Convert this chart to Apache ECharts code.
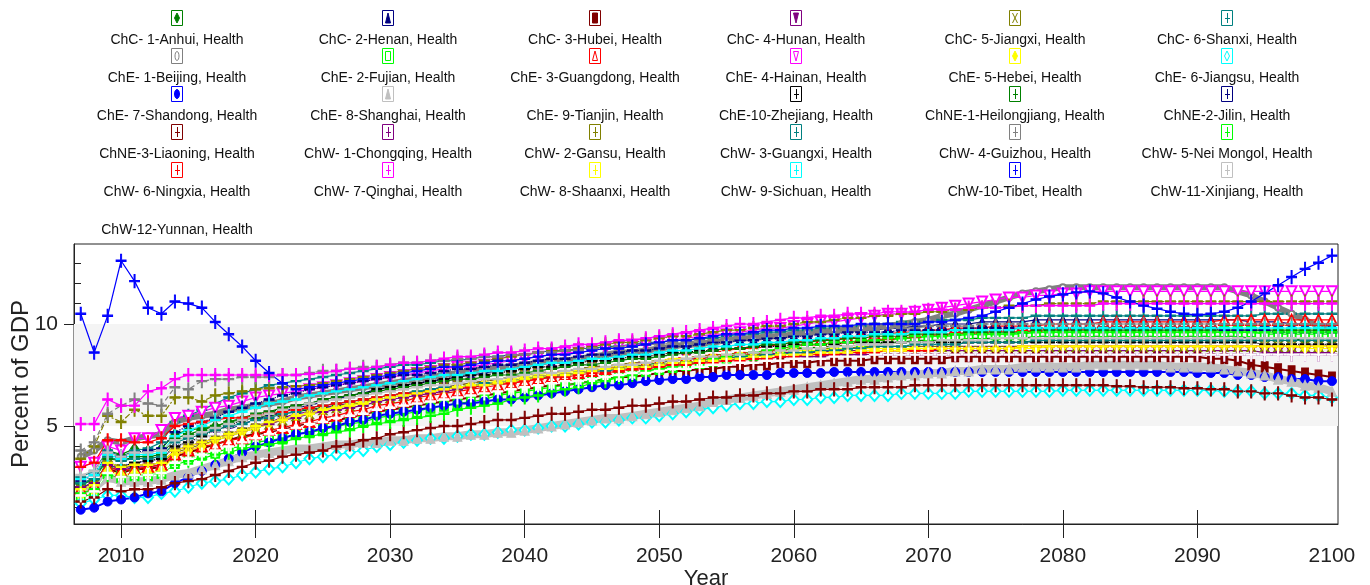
<!DOCTYPE html>
<html>
<head>
<meta charset="utf-8">
<script src="https://cdn.jsdelivr.net/npm/echarts@6/dist/echarts.min.js"></script>
<style>
  html, body { margin: 0; padding: 0; background: #fff; }
  #chart { width: 1370px; height: 585px; }
</style>
</head>
<body>
<div id="chart"></div>
<script>
// Health spending as percent of GDP, Chinese provinces, 2007-2100
const firstYear = 2007;
const lastYear = 2100;

const seriesNames = [
  'ChC- 1-Anhui, Health', 'ChC- 2-Henan, Health', 'ChC- 3-Hubei, Health', 'ChC- 4-Hunan, Health', 'ChC- 5-Jiangxi, Health', 'ChC- 6-Shanxi, Health',
  'ChE- 1-Beijing, Health', 'ChE- 2-Fujian, Health', 'ChE- 3-Guangdong, Health', 'ChE- 4-Hainan, Health', 'ChE- 5-Hebei, Health', 'ChE- 6-Jiangsu, Health',
  'ChE- 7-Shandong, Health', 'ChE- 8-Shanghai, Health', 'ChE- 9-Tianjin, Health', 'ChE-10-Zhejiang, Health', 'ChNE-1-Heilongjiang, Health', 'ChNE-2-Jilin, Health',
  'ChNE-3-Liaoning, Health', 'ChW- 1-Chongqing, Health', 'ChW- 2-Gansu, Health', 'ChW- 3-Guangxi, Health', 'ChW- 4-Guizhou, Health', 'ChW- 5-Nei Mongol, Health',
  'ChW- 6-Ningxia, Health', 'ChW- 7-Qinghai, Health', 'ChW- 8-Shaanxi, Health', 'ChW- 9-Sichuan, Health', 'ChW-10-Tibet, Health', 'ChW-11-Xinjiang, Health',
  'ChW-12-Yunnan, Health'
];

const xTickLabels = [2010, 2020, 2030, 2040, 2050, 2060, 2070, 2080, 2090, 2100];
const yTickLabels = [5, 10];

// yearly values, 2007..2100
const anhui = [
  2.1,2.4,3.8,3.6,3.9,3.8,3.9,4.6,4.8,4.9,
  5.0,5.2,5.3,5.4,5.5,5.6,5.7,5.8,5.9,6.0,
  6.1,6.2,6.3,6.4,6.5,6.6,6.7,6.8,6.9,7.0,
  7.0,7.1,7.2,7.3,7.4,7.5,7.5,7.6,7.7,7.8,
  7.9,7.9,8.0,8.1,8.2,8.3,8.3,8.4,8.5,8.6,
  8.6,8.7,8.7,8.8,8.8,8.9,8.9,9.0,9.0,9.0,
  9.1,9.1,9.2,9.2,9.2,9.2,9.3,9.3,9.3,9.3,
  9.3,9.4,9.4,9.4,9.4,9.4,9.4,9.4,9.4,9.4,
  9.4,9.4,9.4,9.4,9.4,9.4,9.4,9.3,9.3,9.3,
  9.3,9.2,9.2,9.2];
const henan = [
  2.0,2.2,3.2,3.0,3.2,3.3,3.4,4.0,4.2,4.4,
  4.6,4.8,5.1,5.3,5.5,5.7,5.9,6.0,6.2,6.3,
  6.5,6.6,6.8,6.9,7.0,7.1,7.2,7.3,7.4,7.5,
  7.6,7.7,7.8,7.9,8.0,8.1,8.1,8.2,8.3,8.4,
  8.5,8.5,8.6,8.7,8.8,8.9,8.9,9.0,9.1,9.2,
  9.2,9.3,9.3,9.4,9.5,9.5,9.6,9.6,9.7,9.7,
  9.8,9.8,9.9,9.9,10.0,10.0,10.0,10.1,10.1,10.1,
  10.1,10.2,10.2,10.2,10.2,10.2,10.2,10.2,10.2,10.2,
  10.2,10.2,10.2,10.2,10.2,10.2,10.2,10.1,10.1,10.1,
  10.0,10.0,10.0,10.0];
const hubei = [
  1.7,1.9,2.9,2.7,2.9,2.9,3.0,3.5,3.7,3.9,
  4.1,4.3,4.5,4.6,4.7,4.8,5.0,5.1,5.2,5.3,
  5.4,5.6,5.7,5.8,5.9,6.0,6.1,6.2,6.3,6.4,
  6.5,6.6,6.7,6.8,6.9,7.0,7.0,7.1,7.2,7.3,
  7.4,7.4,7.5,7.6,7.7,7.7,7.8,7.8,7.9,7.9,
  8.0,8.0,8.1,8.1,8.1,8.2,8.2,8.2,8.2,8.3,
  8.3,8.3,8.3,8.3,8.3,8.4,8.4,8.4,8.4,8.4,
  8.4,8.4,8.4,8.4,8.4,8.4,8.4,8.4,8.4,8.4,
  8.4,8.4,8.4,8.4,8.3,8.3,8.2,8.0,7.9,7.8,
  7.7,7.6,7.5,7.4];
const hunan = [
  1.8,2.0,3.0,2.8,3.0,3.0,3.1,3.8,4.0,4.2,
  4.4,4.6,4.8,5.0,5.2,5.4,5.6,5.7,5.9,6.0,
  6.1,6.2,6.4,6.5,6.6,6.7,6.8,6.9,7.0,7.1,
  7.2,7.3,7.4,7.5,7.6,7.7,7.7,7.8,7.9,7.9,
  8.0,8.1,8.1,8.2,8.2,8.3,8.3,8.4,8.4,8.5,
  8.5,8.5,8.6,8.6,8.6,8.6,8.7,8.7,8.7,8.7,
  8.7,8.7,8.7,8.7,8.7,8.7,8.7,8.7,8.7,8.7,
  8.7,8.7,8.7,8.7,8.7,8.7,8.7,8.7,8.7,8.7,
  8.7,8.7,8.7,8.7,8.7,8.7,8.7,8.7,8.6,8.6,
  8.6,8.6,8.6,8.6];
const jiangxi = [
  1.9,2.1,3.1,2.9,3.1,3.1,3.2,3.7,3.9,4.1,
  4.3,4.5,4.7,4.9,5.1,5.3,5.5,5.6,5.8,5.9,
  6.0,6.2,6.3,6.4,6.5,6.6,6.8,6.9,7.0,7.1,
  7.2,7.3,7.4,7.5,7.6,7.6,7.7,7.8,7.9,8.0,
  8.0,8.1,8.2,8.2,8.3,8.4,8.4,8.5,8.5,8.6,
  8.6,8.7,8.7,8.7,8.8,8.8,8.8,8.8,8.9,8.9,
  8.9,8.9,8.9,8.9,8.9,8.9,8.9,8.9,8.9,8.9,
  8.9,8.9,8.9,8.9,8.9,8.9,8.9,8.9,8.9,8.9,
  8.9,8.9,8.9,8.9,8.9,8.9,8.9,8.9,8.9,8.9,
  8.9,8.9,8.9,8.9];
const shanxi = [
  2.5,2.8,3.8,3.5,3.8,3.9,4.2,5.2,5.5,5.8,
  6.1,6.4,6.6,6.8,7.0,7.1,7.2,7.3,7.4,7.5,
  7.6,7.7,7.8,7.9,8.0,8.0,8.1,8.2,8.2,8.3,
  8.4,8.4,8.5,8.5,8.6,8.7,8.7,8.8,8.8,8.9,
  8.9,9.0,9.1,9.1,9.2,9.2,9.3,9.3,9.4,9.5,
  9.5,9.6,9.6,9.7,9.7,9.8,9.8,9.9,9.9,10.0,
  10.0,10.1,10.1,10.1,10.2,10.2,10.2,10.3,10.3,10.3,
  10.3,10.4,10.4,10.4,10.4,10.4,10.4,10.4,10.4,10.4,
  10.4,10.4,10.4,10.4,10.4,10.4,10.4,10.4,10.5,10.5,
  10.5,10.5,10.5,10.5];
const beijing = [
  3.5,3.8,4.3,4.2,4.4,4.5,4.6,5.2,5.4,5.5,
  5.6,5.8,5.9,6.0,6.1,6.2,6.4,6.5,6.6,6.7,
  6.8,6.9,7.0,7.1,7.2,7.3,7.4,7.5,7.6,7.7,
  7.8,7.8,7.9,8.0,8.1,8.2,8.2,8.3,8.4,8.5,
  8.6,8.6,8.7,8.8,8.9,9.0,9.0,9.1,9.2,9.3,
  9.3,9.4,9.4,9.5,9.6,9.6,9.7,9.7,9.8,9.9,
  9.9,10.0,10.1,10.2,10.4,10.5,10.7,10.9,11.1,11.3,
  11.5,11.6,11.7,11.8,11.8,11.8,11.8,11.8,11.8,11.8,
  11.8,11.8,11.8,11.8,11.8,11.8,11.6,11.4,11.1,10.8,
  10.5,10.2,9.9,9.7];
const fujian = [
  1.5,1.7,2.7,2.5,2.6,2.6,2.7,3.2,3.4,3.6,
  3.7,3.9,4.0,4.2,4.3,4.4,4.6,4.7,4.8,5.0,
  5.1,5.2,5.4,5.5,5.6,5.7,5.9,6.0,6.1,6.2,
  6.3,6.5,6.6,6.7,6.8,6.9,7.0,7.1,7.2,7.3,
  7.4,7.5,7.7,7.8,7.9,8.0,8.1,8.2,8.3,8.4,
  8.5,8.6,8.7,8.8,8.9,8.9,9.0,9.0,9.1,9.2,
  9.2,9.3,9.3,9.4,9.4,9.4,9.5,9.5,9.5,9.5,
  9.5,9.6,9.6,9.6,9.6,9.6,9.6,9.6,9.6,9.6,
  9.6,9.6,9.6,9.6,9.6,9.6,9.6,9.6,9.5,9.5,
  9.5,9.5,9.5,9.5];
const guangdong = [
  1.9,2.1,3.0,2.8,2.9,3.0,3.1,3.6,3.8,4.0,
  4.1,4.3,4.4,4.6,4.8,4.9,5.1,5.2,5.4,5.5,
  5.7,5.8,6.0,6.1,6.2,6.4,6.5,6.6,6.7,6.8,
  6.9,7.0,7.1,7.2,7.3,7.4,7.5,7.6,7.7,7.8,
  7.9,8.0,8.1,8.2,8.3,8.4,8.5,8.6,8.7,8.8,
  8.8,8.9,9.0,9.1,9.2,9.2,9.3,9.3,9.4,9.5,
  9.5,9.6,9.6,9.7,9.7,9.8,9.8,9.8,9.9,9.9,
  9.9,9.9,10.0,10.0,10.0,10.0,10.1,10.1,10.1,10.1,
  10.1,10.1,10.1,10.1,10.1,10.2,10.2,10.2,10.2,10.2,
  10.2,10.2,10.2,10.2];
const hainan = [
  3.0,3.2,4.0,3.8,4.4,4.4,4.8,5.4,5.5,5.7,
  5.9,6.0,6.2,6.4,6.5,6.6,6.7,6.8,6.9,7.0,
  7.1,7.2,7.3,7.4,7.5,7.6,7.7,7.8,7.9,7.9,
  8.0,8.1,8.2,8.3,8.4,8.5,8.6,8.6,8.7,8.8,
  8.9,9.0,9.0,9.1,9.2,9.3,9.4,9.5,9.5,9.6,
  9.7,9.8,9.8,9.9,10.0,10.1,10.1,10.2,10.3,10.4,
  10.5,10.5,10.6,10.7,10.8,10.9,11.0,11.1,11.2,11.3,
  11.3,11.4,11.4,11.5,11.5,11.6,11.6,11.6,11.6,11.6,
  11.6,11.6,11.6,11.6,11.6,11.6,11.6,11.6,11.6,11.6,
  11.6,11.6,11.6,11.6];
const hebei = [
  1.6,1.8,2.8,2.6,2.7,2.7,2.8,3.6,3.8,4.0,
  4.3,4.5,4.7,4.9,5.1,5.3,5.5,5.6,5.8,5.9,
  6.1,6.2,6.4,6.5,6.6,6.7,6.8,6.8,6.9,7.0,
  7.1,7.2,7.3,7.4,7.5,7.6,7.6,7.7,7.8,7.9,
  7.9,8.0,8.1,8.2,8.3,8.3,8.4,8.4,8.5,8.5,
  8.6,8.6,8.7,8.7,8.7,8.7,8.8,8.8,8.8,8.8,
  8.8,8.8,8.8,8.8,8.8,8.8,8.8,8.8,8.8,8.8,
  8.8,8.8,8.9,8.9,8.9,8.9,8.9,8.9,8.9,8.9,
  8.9,8.9,8.9,8.9,8.9,8.9,8.9,8.9,8.9,8.9,
  8.9,8.8,8.8,8.8];
const jiangsu = [
  1.2,1.4,1.6,1.6,1.5,1.5,1.7,1.8,2.0,2.2,
  2.3,2.4,2.6,2.75,2.9,3.0,3.2,3.4,3.5,3.6,
  3.7,3.8,4.0,4.1,4.2,4.3,4.4,4.4,4.5,4.6,
  4.6,4.7,4.8,4.8,4.9,5.0,5.0,5.1,5.2,5.2,
  5.3,5.4,5.4,5.5,5.6,5.7,5.8,5.9,6.0,6.1,
  6.1,6.2,6.2,6.3,6.3,6.4,6.4,6.5,6.5,6.5,
  6.5,6.6,6.6,6.6,6.6,6.6,6.7,6.7,6.7,6.7,
  6.7,6.7,6.7,6.75,6.75,6.75,6.75,6.75,6.75,6.75,
  6.75,6.75,6.75,6.75,6.75,6.7,6.7,6.7,6.6,6.6,
  6.6,6.5,6.5,6.4];
const shandong = [
  0.9,1.0,1.3,1.4,1.5,1.7,1.8,2.2,2.5,2.8,
  3.1,3.4,3.7,4.0,4.2,4.4,4.6,4.7,4.9,5.0,
  5.2,5.3,5.5,5.6,5.7,5.8,5.9,6.0,6.1,6.1,
  6.2,6.3,6.3,6.4,6.5,6.6,6.7,6.8,6.9,7.0,
  7.0,7.1,7.2,7.25,7.3,7.3,7.4,7.4,7.5,7.5,
  7.5,7.5,7.6,7.6,7.6,7.6,7.65,7.65,7.65,7.65,
  7.65,7.65,7.65,7.65,7.65,7.65,7.65,7.65,7.65,7.65,
  7.65,7.65,7.65,7.65,7.65,7.65,7.65,7.65,7.65,7.65,
  7.65,7.65,7.65,7.6,7.6,7.6,7.5,7.5,7.4,7.4,
  7.3,7.3,7.2,7.2];
const shanghai = [
  1.8,2.0,2.5,2.3,2.3,2.3,2.4,2.6,2.7,2.9,
  3.1,3.3,3.5,3.6,3.7,3.8,3.9,3.9,4.0,4.1,
  4.1,4.2,4.2,4.3,4.3,4.4,4.4,4.5,4.5,4.6,
  4.6,4.7,4.7,4.8,4.9,5.0,5.1,5.2,5.3,5.4,
  5.4,5.5,5.6,5.7,5.8,5.9,6.0,6.2,6.3,6.4,
  6.5,6.6,6.7,6.8,6.9,7.0,7.1,7.2,7.3,7.3,
  7.4,7.5,7.5,7.6,7.6,7.7,7.7,7.8,7.8,7.8,
  7.9,7.9,7.9,7.9,7.9,8.0,8.0,8.0,8.0,8.0,
  8.0,7.9,7.9,7.9,7.9,7.8,7.7,7.6,7.5,7.3,
  7.2,7.0,6.9,6.7];
const tianjin = [
  2.3,2.5,3.4,3.2,3.3,3.3,3.4,4.0,4.2,4.4,
  4.6,4.8,5.0,5.2,5.4,5.6,5.8,5.9,6.1,6.2,
  6.3,6.4,6.5,6.6,6.7,6.8,6.9,7.0,7.1,7.2,
  7.3,7.4,7.5,7.6,7.7,7.7,7.8,7.9,8.0,8.0,
  8.1,8.2,8.2,8.3,8.4,8.4,8.5,8.6,8.6,8.7,
  8.7,8.8,8.8,8.9,8.9,8.9,9.0,9.0,9.0,9.0,
  9.0,9.0,9.0,9.0,9.0,9.0,9.0,9.0,9.0,9.0,
  9.0,9.0,9.0,9.0,9.0,9.0,9.0,9.0,9.0,9.0,
  9.0,9.0,9.0,9.0,9.0,9.0,9.0,9.0,9.0,9.0,
  9.0,9.0,9.0,9.0];
const zhejiang = [
  2.0,2.2,3.2,3.0,3.2,3.3,3.4,4.0,4.2,4.5,
  4.8,5.0,5.3,5.5,5.7,5.8,6.0,6.1,6.3,6.4,
  6.5,6.6,6.8,6.9,7.0,7.1,7.2,7.3,7.4,7.5,
  7.5,7.6,7.7,7.8,7.9,7.9,8.0,8.1,8.2,8.2,
  8.3,8.4,8.4,8.5,8.6,8.6,8.7,8.7,8.8,8.8,
  8.9,8.9,8.9,9.0,9.0,9.0,9.0,9.1,9.1,9.1,
  9.1,9.1,9.1,9.1,9.1,9.1,9.1,9.1,9.1,9.1,
  9.1,9.1,9.1,9.1,9.1,9.1,9.1,9.1,9.1,9.1,
  9.1,9.1,9.1,9.1,9.1,9.1,9.1,9.1,9.0,9.0,
  9.0,9.0,9.0,9.0];
const heilongjiang = [
  2.2,2.4,3.4,3.3,3.5,3.5,3.6,4.4,4.6,4.8,
  5.0,5.2,5.4,5.6,5.7,5.9,6.0,6.1,6.3,6.4,
  6.5,6.6,6.7,6.8,6.9,7.0,7.1,7.2,7.3,7.3,
  7.4,7.5,7.5,7.6,7.7,7.8,7.9,8.0,8.0,8.1,
  8.2,8.3,8.3,8.4,8.5,8.6,8.6,8.7,8.8,8.8,
  8.9,9.0,9.0,9.1,9.1,9.2,9.2,9.3,9.3,9.4,
  9.4,9.4,9.5,9.5,9.5,9.5,9.6,9.6,9.6,9.6,
  9.6,9.7,9.7,9.7,9.7,9.7,9.7,9.7,9.7,9.7,
  9.7,9.7,9.7,9.7,9.7,9.7,9.7,9.7,9.7,9.7,
  9.7,9.7,9.7,9.7];
const jilin = [
  2.3,2.6,3.7,3.5,3.7,3.8,3.9,4.7,5.0,5.2,
  5.4,5.7,5.9,6.1,6.3,6.5,6.6,6.8,6.9,7.0,
  7.1,7.2,7.3,7.4,7.5,7.5,7.6,7.7,7.8,7.8,
  7.9,8.0,8.0,8.1,8.2,8.3,8.3,8.4,8.5,8.5,
  8.6,8.7,8.7,8.8,8.9,8.9,9.0,9.1,9.1,9.2,
  9.2,9.3,9.3,9.4,9.4,9.5,9.5,9.6,9.6,9.6,
  9.6,9.7,9.7,9.7,9.7,9.7,9.8,9.8,9.8,9.8,
  9.8,9.8,9.8,9.8,9.8,9.8,9.8,9.8,9.8,9.8,
  9.8,9.8,9.8,9.8,9.8,9.7,9.7,9.7,9.7,9.6,
  9.6,9.6,9.6,9.6];
const liaoning = [
  1.3,1.5,1.9,1.8,1.9,1.9,2.0,2.2,2.3,2.4,
  2.6,2.8,3.0,3.2,3.3,3.5,3.6,3.7,3.8,4.0,
  4.1,4.3,4.4,4.6,4.7,4.8,4.9,5.0,5.0,5.1,
  5.2,5.3,5.3,5.4,5.5,5.6,5.6,5.7,5.8,5.8,
  5.9,6.0,6.0,6.1,6.2,6.2,6.3,6.4,6.4,6.5,
  6.5,6.6,6.6,6.7,6.7,6.8,6.8,6.8,6.9,6.9,
  6.9,6.9,7.0,7.0,7.0,7.0,7.0,7.0,7.0,7.0,
  7.0,7.0,7.0,7.0,7.0,7.0,7.0,6.95,6.95,6.9,
  6.9,6.9,6.85,6.85,6.8,6.8,6.7,6.7,6.6,6.6,
  6.5,6.4,6.4,6.3];
const chongqing = [
  2.0,2.2,3.1,2.9,3.1,3.1,3.2,3.8,4.0,4.2,
  4.4,4.6,4.8,5.0,5.1,5.3,5.4,5.6,5.7,5.8,
  5.9,6.0,6.2,6.3,6.4,6.5,6.6,6.7,6.8,6.9,
  7.0,7.1,7.2,7.3,7.4,7.5,7.5,7.6,7.7,7.7,
  7.8,7.9,7.9,8.0,8.0,8.1,8.1,8.2,8.2,8.3,
  8.3,8.3,8.4,8.4,8.4,8.4,8.5,8.5,8.5,8.5,
  8.5,8.5,8.5,8.5,8.5,8.5,8.5,8.5,8.5,8.5,
  8.5,8.5,8.5,8.5,8.5,8.5,8.5,8.5,8.5,8.5,
  8.5,8.5,8.5,8.5,8.5,8.5,8.5,8.5,8.5,8.5,
  8.5,8.5,8.5,8.5];
const gansu = [
  3.4,4.0,5.5,5.2,5.8,5.5,5.5,6.4,6.4,6.2,
  6.5,6.6,6.7,6.8,6.85,6.9,6.95,7.0,7.1,7.2,
  7.3,7.4,7.5,7.6,7.7,7.8,7.9,8.0,8.0,8.1,
  8.2,8.3,8.4,8.5,8.6,8.7,8.7,8.8,8.9,9.0,
  9.1,9.1,9.2,9.3,9.4,9.4,9.5,9.6,9.7,9.7,
  9.8,9.9,9.9,10.0,10.1,10.1,10.2,10.3,10.3,10.4,
  10.4,10.5,10.5,10.6,10.6,10.7,10.7,10.8,10.8,10.9,
  10.9,10.9,11.0,11.0,11.0,11.0,11.1,11.1,11.1,11.1,
  11.1,11.1,11.1,11.1,11.1,11.1,11.1,11.1,11.1,11.1,
  11.1,11.1,11.1,11.1];
const guangxi = [
  2.2,2.4,3.5,3.3,3.4,3.4,3.5,4.2,4.4,4.6,
  4.8,5.0,5.1,5.3,5.4,5.6,5.7,5.9,6.0,6.1,
  6.2,6.3,6.4,6.5,6.6,6.7,6.8,6.9,6.9,7.0,
  7.1,7.1,7.2,7.3,7.4,7.4,7.5,7.6,7.7,7.7,
  7.8,7.9,7.9,8.0,8.1,8.1,8.2,8.3,8.3,8.4,
  8.4,8.5,8.5,8.6,8.6,8.7,8.7,8.8,8.8,8.9,
  8.9,8.9,9.0,9.0,9.0,9.0,9.1,9.1,9.1,9.1,
  9.1,9.2,9.2,9.2,9.2,9.2,9.2,9.2,9.2,9.2,
  9.2,9.2,9.2,9.2,9.2,9.2,9.2,9.2,9.2,9.2,
  9.2,9.2,9.2,9.2];
const guizhou = [
  3.8,4.2,5.6,6.0,6.3,6.1,6.0,6.9,6.8,7.2,
  7.3,7.3,7.4,7.4,7.4,7.5,7.5,7.6,7.7,7.7,
  7.8,7.9,7.9,8.0,8.1,8.1,8.2,8.2,8.3,8.3,
  8.4,8.4,8.5,8.5,8.6,8.6,8.7,8.7,8.8,8.8,
  8.9,8.9,9.0,9.0,9.1,9.1,9.2,9.2,9.3,9.3,
  9.4,9.4,9.5,9.5,9.5,9.6,9.6,9.7,9.7,9.7,
  9.8,9.8,9.8,9.9,9.9,9.9,9.9,10.0,10.0,10.0,
  10.0,10.0,10.0,10.0,10.0,10.0,10.0,10.0,10.0,10.0,
  10.0,10.0,10.0,10.0,10.0,10.0,10.0,10.0,10.0,10.0,
  10.0,10.0,10.0,10.0];
const neimongol = [
  1.7,1.9,2.6,2.5,2.6,2.6,2.7,3.1,3.3,3.4,
  3.6,3.7,3.9,4.0,4.1,4.2,4.4,4.5,4.6,4.7,
  4.8,5.0,5.1,5.2,5.3,5.4,5.5,5.6,5.8,5.9,
  6.0,6.1,6.3,6.4,6.5,6.7,6.8,6.9,7.1,7.2,
  7.4,7.5,7.7,7.8,7.9,8.1,8.2,8.3,8.4,8.5,
  8.6,8.7,8.8,8.9,9.0,9.0,9.1,9.1,9.2,9.2,
  9.3,9.3,9.4,9.4,9.4,9.5,9.5,9.5,9.5,9.5,
  9.6,9.6,9.6,9.6,9.6,9.6,9.6,9.6,9.6,9.6,
  9.6,9.6,9.6,9.6,9.6,9.6,9.6,9.6,9.6,9.6,
  9.6,9.6,9.6,9.6];
const ningxia = [
  3.0,3.2,4.3,4.3,4.2,4.2,4.4,5.0,5.1,5.2,
  5.3,5.4,5.4,5.5,5.6,5.7,5.8,5.9,6.0,6.1,
  6.2,6.3,6.4,6.5,6.6,6.6,6.7,6.8,6.9,6.9,
  7.0,7.1,7.1,7.2,7.3,7.4,7.4,7.5,7.6,7.6,
  7.7,7.8,7.8,7.9,8.0,8.0,8.1,8.1,8.2,8.2,
  8.3,8.3,8.4,8.4,8.5,8.5,8.5,8.6,8.6,8.6,
  8.7,8.7,8.7,8.7,8.8,8.8,8.8,8.8,8.8,8.8,
  8.9,8.9,8.9,8.9,8.9,8.9,8.9,8.9,8.9,8.9,
  8.9,8.9,8.9,8.9,8.9,8.9,8.9,8.9,8.9,8.9,
  8.9,8.9,8.9,8.9];
const qinghai = [
  5.1,5.1,6.3,6.0,6.0,6.7,6.85,7.3,7.5,7.5,
  7.5,7.5,7.5,7.5,7.5,7.5,7.5,7.55,7.6,7.7,
  7.8,7.8,7.9,8.0,8.1,8.1,8.2,8.3,8.4,8.4,
  8.5,8.6,8.6,8.7,8.8,8.8,8.9,9.0,9.0,9.1,
  9.2,9.2,9.3,9.4,9.5,9.6,9.7,9.8,9.9,10.0,
  10.0,10.1,10.2,10.3,10.3,10.4,10.4,10.5,10.5,10.5,
  10.6,10.6,10.6,10.7,10.7,10.7,10.8,10.8,10.8,10.8,
  10.9,10.9,10.9,10.9,10.9,10.9,11.0,11.0,11.0,11.0,
  11.0,11.0,11.0,11.0,11.0,11.0,11.0,11.0,11.0,11.0,
  11.0,11.0,11.0,11.0];
const shaanxi = [
  1.9,2.1,3.2,3.0,3.1,3.1,3.2,3.8,4.0,4.2,
  4.4,4.6,4.8,5.0,5.2,5.3,5.5,5.6,5.8,5.9,
  6.0,6.1,6.3,6.4,6.5,6.6,6.7,6.8,6.9,7.0,
  7.0,7.1,7.2,7.3,7.4,7.5,7.5,7.6,7.7,7.8,
  7.8,7.9,7.9,8.0,8.1,8.1,8.2,8.2,8.3,8.3,
  8.4,8.4,8.5,8.5,8.5,8.6,8.6,8.6,8.7,8.7,
  8.7,8.7,8.8,8.8,8.8,8.8,8.8,8.8,8.8,8.8,
  8.9,8.9,8.9,8.9,8.9,8.9,8.9,8.9,8.9,8.9,
  8.9,8.9,8.9,8.9,8.9,8.9,8.9,8.9,8.9,8.9,
  8.9,8.9,8.9,8.9];
const sichuan = [
  2.4,2.6,3.6,3.4,3.6,3.6,3.7,4.5,4.8,5.0,
  5.3,5.5,5.7,5.9,6.1,6.2,6.3,6.5,6.6,6.7,
  6.8,6.9,7.0,7.1,7.2,7.3,7.4,7.5,7.5,7.6,
  7.7,7.7,7.8,7.9,8.0,8.1,8.1,8.2,8.3,8.3,
  8.4,8.5,8.5,8.6,8.7,8.7,8.8,8.9,8.9,9.0,
  9.0,9.1,9.1,9.2,9.2,9.3,9.3,9.4,9.4,9.5,
  9.5,9.5,9.6,9.6,9.6,9.7,9.7,9.7,9.7,9.7,
  9.8,9.8,9.8,9.8,9.8,9.8,9.8,9.8,9.8,9.8,
  9.8,9.8,9.8,9.8,9.8,9.8,9.8,9.8,9.8,9.8,
  9.8,9.8,9.8,9.8];
const tibet = [
  10.5,8.6,10.4,13.1,12.1,10.8,10.5,11.1,11.0,10.8,
  10.1,9.5,8.9,8.2,7.6,7.1,6.8,6.9,7.0,7.1,
  7.2,7.3,7.4,7.5,7.6,7.7,7.8,7.9,7.9,8.0,
  8.1,8.2,8.2,8.3,8.4,8.5,8.5,8.6,8.7,8.8,
  8.8,8.9,9.0,9.1,9.2,9.2,9.3,9.4,9.5,9.5,
  9.6,9.7,9.7,9.8,9.8,9.9,9.9,9.9,10.0,10.0,
  10.0,10.0,10.0,10.1,10.1,10.2,10.3,10.4,10.6,10.8,
  11.0,11.2,11.35,11.45,11.55,11.6,11.5,11.3,11.1,10.9,
  10.75,10.6,10.5,10.45,10.5,10.6,10.8,11.1,11.5,11.9,
  12.3,12.7,13.0,13.35];
const xinjiang = [
  2.6,2.8,3.7,3.5,3.7,3.7,3.8,4.3,4.5,4.7,
  4.9,5.1,5.3,5.5,5.6,5.8,5.9,6.1,6.2,6.3,
  6.4,6.5,6.6,6.7,6.8,6.9,7.0,7.0,7.1,7.2,
  7.3,7.3,7.4,7.5,7.6,7.6,7.7,7.8,7.8,7.9,
  8.0,8.0,8.1,8.2,8.2,8.3,8.4,8.4,8.5,8.5,
  8.6,8.6,8.7,8.7,8.8,8.8,8.9,8.9,9.0,9.0,
  9.0,9.1,9.1,9.1,9.2,9.2,9.2,9.2,9.3,9.3,
  9.3,9.3,9.3,9.3,9.3,9.3,9.3,9.3,9.3,9.3,
  9.3,9.3,9.3,9.3,9.3,9.3,9.3,9.3,9.3,9.3,
  9.3,9.3,9.3,9.3];
const yunnan = [
  1.6,1.8,2.7,2.5,2.6,2.6,2.7,3.2,3.4,3.6,
  3.8,4.0,4.2,4.4,4.6,4.8,4.9,5.1,5.2,5.4,
  5.5,5.6,5.8,5.9,6.0,6.1,6.2,6.3,6.4,6.5,
  6.6,6.7,6.8,6.9,7.0,7.1,7.2,7.2,7.3,7.4,
  7.5,7.6,7.6,7.7,7.8,7.8,7.9,8.0,8.0,8.1,
  8.1,8.2,8.2,8.3,8.3,8.3,8.4,8.4,8.4,8.5,
  8.5,8.5,8.5,8.5,8.5,8.5,8.5,8.5,8.5,8.5,
  8.5,8.5,8.5,8.5,8.5,8.5,8.5,8.5,8.5,8.5,
  8.5,8.5,8.5,8.5,8.5,8.5,8.5,8.5,8.5,8.5,
  8.5,8.5,8.5,8.5];

const seriesValues = [
  anhui, henan, hubei, hunan, jiangxi, shanxi,
  beijing, fujian, guangdong, hainan, hebei, jiangsu,
  shandong, shanghai, tianjin, zhejiang, heilongjiang, jilin,
  liaoning, chongqing, gansu, guangxi, guizhou, neimongol,
  ningxia, qinghai, shaanxi, sichuan, tibet, xinjiang,
  yunnan
];

// 16-colour cycle used by the plotting package
const palette = ['#008000', '#000080', '#800000', '#800080', '#808000', '#008080', '#808080', '#00ff00',
                 '#ff0000', '#ff00ff', '#ffff00', '#00ffff', '#0000ff', '#c0c0c0', '#ffffff', '#000000'];
const markerKinds = ['diamond', 'triangle', 'rect', 'downTriangle', 'cross', 'plus',
                     'emptyCircle', 'emptyRect', 'emptyTriangle', 'emptyDownTriangle', 'diamond', 'emptyDiamond',
                     'circle', 'triangle'];

const PLUS_PATH = 'path://M4,0h1v4.5h4v1h-4v4.5h-1v-4.5h-4v-1h4z';
const CROSS_PATH = 'path://M0,0h1.3l3.2,3.9l3.2,-3.9h1.3l-3.8,4.5l3.8,4.5h-1.3l-3.2,-3.9l-3.2,3.9h-1.3l3.8,-4.5z';

function markerFor(kind) {
  switch (kind) {
    case 'diamond': return { symbol: 'diamond', symbolSize: [8, 11] };
    case 'triangle': return { symbol: 'triangle', symbolSize: [9, 10] };
    case 'rect': return { symbol: 'rect', symbolSize: [7, 10] };
    case 'downTriangle': return { symbol: 'triangle', symbolSize: [9, 10], symbolRotate: 180 };
    case 'cross': return { symbol: CROSS_PATH, symbolSize: [9, 10] };
    case 'emptyCircle': return { symbol: 'emptyCircle', symbolSize: 6 };
    case 'emptyRect': return { symbol: 'emptyRect', symbolSize: [8, 10] };
    case 'emptyTriangle': return { symbol: 'emptyTriangle', symbolSize: [10, 10] };
    case 'emptyDownTriangle': return { symbol: 'emptyTriangle', symbolSize: [10, 10], symbolRotate: 180 };
    case 'emptyDiamond': return { symbol: 'emptyDiamond', symbolSize: [10, 11] };
    case 'circle': return { symbol: 'circle', symbolSize: 9 };
    default: return { symbol: PLUS_PATH, symbolSize: [10, 13] };
  }
}

const lineWidths = { 6: 6, 13: 8, 12: 2, 2: 2 };
const lineTypes = { 15: 'dotted', 17: 'dotted', 22: [5, 3], 20: [6, 2, 2, 2] };

const years = [];
for (let y = firstYear; y <= lastYear; y++) years.push(y);

const series = [{
  type: 'line', data: [], silent: true,
  markArea: { silent: true, itemStyle: { color: '#f4f4f4' }, data: [[{ yAxis: 5 }, { yAxis: 10 }]] }
}];

seriesNames.forEach((name, i) => {
  const color = palette[i % 16];
  const kind = markerKinds[i] || 'plus';
  const m = markerFor(kind);
  series.push(Object.assign({
    name: name,
    type: 'line',
    data: years.map((y, k) => [y, seriesValues[i][k]]),
    showSymbol: true,
    showAllSymbol: true,
    clip: true,
    lineStyle: { color: color, width: lineWidths[i] || 1.2, type: lineTypes[i] || 'solid' },
    itemStyle: { color: color, borderColor: color, borderWidth: 1 },
    emphasis: { disabled: true }
  }, m));
});

// legend: box with marker above each name, six per row
const legendCols = [177, 388, 595, 796, 1015, 1227];
const legendGraphics = [];
seriesNames.forEach((name, i) => {
  const color = palette[i % 16];
  const kind = markerKinds[i] || 'plus';
  const cx = legendCols[i % 6];
  const row = Math.floor(i / 6);
  const ty = 40 + 38 * row;
  const iy = 18 + 38 * row;
  legendGraphics.push({
    type: 'text', silent: true,
    style: { text: name, x: cx, y: ty, align: 'center', verticalAlign: 'middle',
             font: '14px "Liberation Sans", Arial, sans-serif', fill: '#111' }
  });
  const bx = Math.round(cx) - 5.5, by = iy - 7.5;
  legendGraphics.push({
    type: 'rect', silent: true,
    shape: { x: bx, y: by, width: 11, height: 15 },
    style: { fill: '#fff', stroke: color, lineWidth: 1 }
  });
  const x0 = Math.round(cx), y0 = iy;
  const fillStyle = { fill: color, stroke: color, lineWidth: 1 };
  const openStyle = { fill: '#fff', stroke: color, lineWidth: 1 };
  let inner;
  switch (kind) {
    case 'diamond': inner = { type: 'polygon', shape: { points: [[x0, y0 - 5], [x0 + 2.5, y0], [x0, y0 + 5], [x0 - 2.5, y0]] }, style: fillStyle }; break;
    case 'triangle': inner = { type: 'polygon', shape: { points: [[x0, y0 - 5], [x0 + 2.5, y0 + 5], [x0 - 2.5, y0 + 5]] }, style: fillStyle }; break;
    case 'rect': inner = { type: 'rect', shape: { x: x0 - 2.5, y: y0 - 5, width: 5, height: 10 }, style: fillStyle }; break;
    case 'downTriangle': inner = { type: 'polygon', shape: { points: [[x0 - 2.5, y0 - 5], [x0 + 2.5, y0 - 5], [x0, y0 + 5]] }, style: fillStyle }; break;
    case 'cross': inner = { type: 'group', children: [
        { type: 'line', shape: { x1: x0 - 2.5, y1: y0 - 5, x2: x0 + 2.5, y2: y0 + 5 }, style: { stroke: color, lineWidth: 1 } },
        { type: 'line', shape: { x1: x0 + 2.5, y1: y0 - 5, x2: x0 - 2.5, y2: y0 + 5 }, style: { stroke: color, lineWidth: 1 } }] }; break;
    case 'emptyCircle': inner = { type: 'ellipse', shape: { cx: x0, cy: y0, rx: 2, ry: 4.5 }, style: openStyle }; break;
    case 'emptyRect': inner = { type: 'rect', shape: { x: x0 - 2.5, y: y0 - 4.5, width: 5, height: 9 }, style: openStyle }; break;
    case 'emptyTriangle': inner = { type: 'polygon', shape: { points: [[x0, y0 - 5], [x0 + 2.5, y0 + 4.5], [x0 - 2.5, y0 + 4.5]] }, style: openStyle }; break;
    case 'emptyDownTriangle': inner = { type: 'polygon', shape: { points: [[x0 - 2.5, y0 - 4.5], [x0 + 2.5, y0 - 4.5], [x0, y0 + 5]] }, style: openStyle }; break;
    case 'emptyDiamond': inner = { type: 'polygon', shape: { points: [[x0, y0 - 5], [x0 + 2.5, y0], [x0, y0 + 5], [x0 - 2.5, y0]] }, style: openStyle }; break;
    case 'circle': inner = { type: 'ellipse', shape: { cx: x0, cy: y0, rx: 2.5, ry: 4.5 }, style: fillStyle }; break;
    default: inner = { type: 'group', children: [
        { type: 'line', shape: { x1: x0 + 0.5, y1: y0 - 5, x2: x0 + 0.5, y2: y0 + 5 }, style: { stroke: color, lineWidth: 1 } },
        { type: 'line', shape: { x1: x0 - 2, y1: y0 + 0.5, x2: x0 + 3, y2: y0 + 0.5 }, style: { stroke: color, lineWidth: 1 } }] };
  }
  inner.silent = true;
  legendGraphics.push(inner);
});

const FONT = '"Liberation Sans", Arial, sans-serif';
const xMin = 2006.5, xMax = 2100.45;
const yMin = 0.2, yMax = 13.92;
const plainNumber = v => String(v);

const chart = echarts.init(document.getElementById('chart'), null, { renderer: 'canvas' });
chart.setOption({
  animation: false,
  backgroundColor: '#ffffff',
  grid: { left: 74, right: 32, top: 244, bottom: 61, containLabel: false, outerBoundsMode: 'none',
          show: true, borderColor: '#222', borderWidth: 1, backgroundColor: 'transparent' },
  xAxis: [{
    type: 'value', min: xMin, max: xMax, position: 'bottom',
    name: 'Year', nameLocation: 'middle', nameGap: 44, nameMoveOverlap: false,
    nameTextStyle: { fontSize: 22, fontFamily: FONT, color: '#222', verticalAlign: 'top' },
    axisLine: { show: true, lineStyle: { color: '#222', width: 1 } },
    axisTick: { show: true, inside: false, length: 14, customValues: xTickLabels.slice(0, 9), lineStyle: { color: '#222' } },
    axisLabel: { show: true, customValues: xTickLabels, formatter: plainNumber, fontSize: 21, fontFamily: FONT, color: '#222', margin: 22,
                 showMinLabel: true, showMaxLabel: true },
    splitLine: { show: false }
  }, {
    type: 'value', min: xMin, max: xMax, position: 'bottom',
    axisLine: { show: false },
    axisTick: { show: true, inside: true, length: 14, customValues: xTickLabels.slice(0, 9), lineStyle: { color: '#222' } },
    axisLabel: { show: false },
    splitLine: { show: false }
  }],
  yAxis: [{
    type: 'value', min: yMin, max: yMax, position: 'left',
    name: 'Percent of GDP', nameLocation: 'middle', nameGap: 41, nameRotate: 90, nameMoveOverlap: false,
    nameTextStyle: { fontSize: 24, fontFamily: FONT, color: '#222' },
    axisLine: { show: true, lineStyle: { color: '#222', width: 1 } },
    axisTick: { show: true, inside: false, length: 10, customValues: yTickLabels, lineStyle: { color: '#222' } },
    axisLabel: { show: true, customValues: yTickLabels, formatter: plainNumber, fontSize: 21, fontFamily: FONT, color: '#222', margin: 16 },
    splitLine: { show: false }
  }, {
    type: 'value', min: yMin, max: yMax, position: 'left',
    axisLine: { show: false },
    axisTick: { show: true, inside: true, length: 7, customValues: [1, 2, 3, 4, 6, 7, 8, 9, 11, 12, 13], lineStyle: { color: '#222' } },
    axisLabel: { show: false },
    splitLine: { show: false }
  }],
  graphic: legendGraphics,
  series: series
});
</script>
</body>
</html>
